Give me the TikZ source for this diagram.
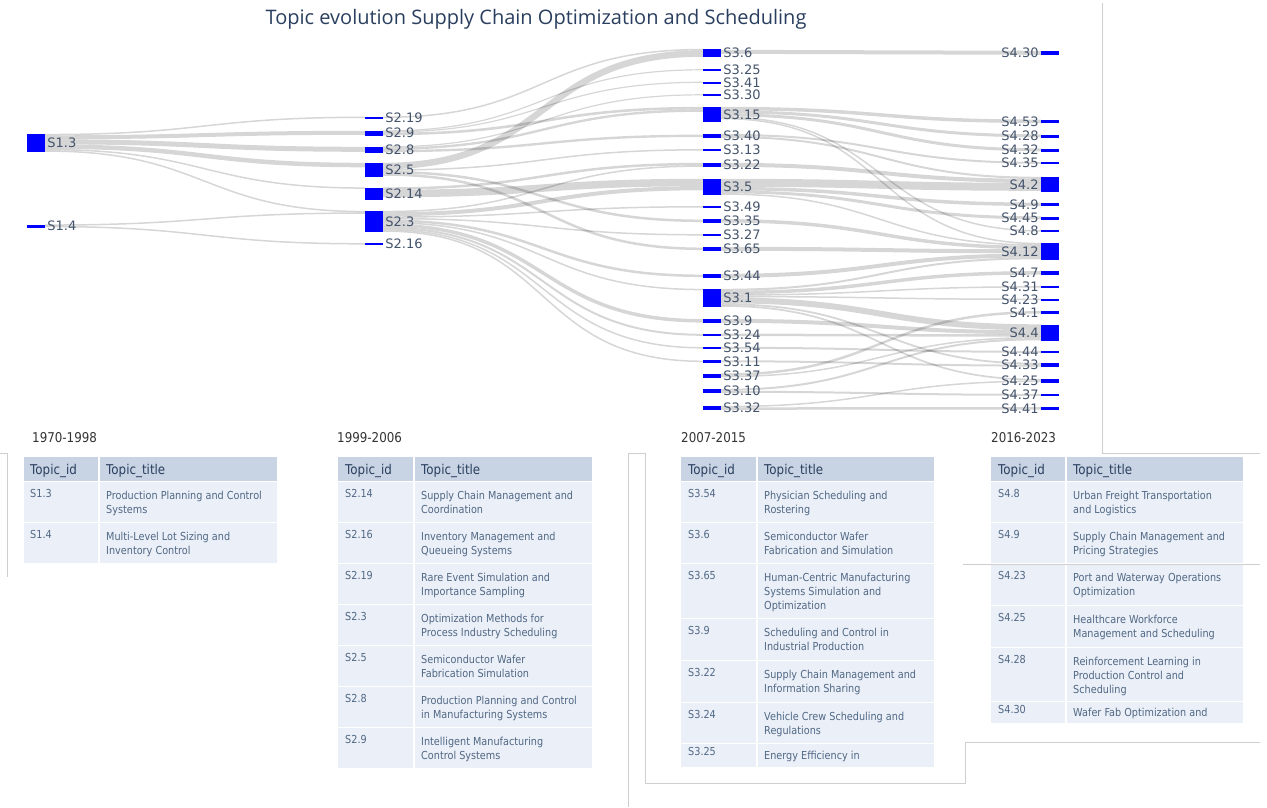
\documentclass[tikz,border=0pt]{standalone}
\usepackage{fontspec}
\setmainfont{DejaVu Sans}
\newfontfamily\titlefont{Open Sans}
\newfontfamily\tabfont[FakeStretch=0.88]{DejaVu Sans}
\definecolor{nodeblue}{HTML}{0000FF}
\definecolor{slate}{HTML}{2A3F5F}
\definecolor{labelgray}{HTML}{44546C}
\definecolor{headfill}{HTML}{C8D4E3}
\definecolor{cellfill}{HTML}{EBF0F8}
\definecolor{celltext}{HTML}{506784}
\definecolor{framegray}{HTML}{CFCFCF}
\pgfdeclarelayer{links}
\pgfsetlayers{links,main}

\begin{document}
\begin{tikzpicture}[x=1pt, y=-1pt,
  bar/.style={fill=nodeblue, inner sep=0, minimum width=18},
  lbl/.style={text=labelgray, font=\fontsize{13}{15}\selectfont, inner sep=2},
  flow/.style={draw=black, draw opacity=0.16, line width=#1, out=0, in=180, looseness=1.28},
  frame/.style={draw=framegray, line width=0.9},
  yr/.style={anchor=west, inner sep=0, text=black!80, font=\tabfont\fontsize{13.5}{15}\selectfont},
  hd/.style={anchor=base west, inner sep=0, text=slate, font=\tabfont\fontsize{13.5}{16}\selectfont},
  cid/.style={anchor=base west, inner sep=0, text=celltext, font=\tabfont\fontsize{11}{14}\selectfont},
  ctt/.style={anchor=north west, inner sep=0, align=left, text=celltext, font=\tabfont\fontsize{11}{14}\selectfont}]
\useasboundingbox (0,0) rectangle (1267,807);

\node[font=\titlefont\fontsize{20}{22}\selectfont, text=slate] (title) at (536,19) {Topic evolution Supply Chain Optimization and Scheduling};

\node[bar, minimum height=18, label={[lbl]right:S1.3}] (s13) at (36,143) {};
\node[bar, minimum height=3, label={[lbl]right:S1.4}] (s14) at (36,226) {};

\node[bar, minimum height=2, label={[lbl]right:S2.19}] (s219) at (374,117.5) {};
\node[bar, minimum height=5, label={[lbl]right:S2.9}] (s29) at (374,133) {};
\node[bar, minimum height=6, label={[lbl]right:S2.8}] (s28) at (374,149.5) {};
\node[bar, minimum height=14, label={[lbl]right:S2.5}] (s25) at (374,170) {};
\node[bar, minimum height=12, label={[lbl]right:S2.14}] (s214) at (374,193.5) {};
\node[bar, minimum height=21, label={[lbl]right:S2.3}] (s23) at (374,221.5) {};
\node[bar, minimum height=2, label={[lbl]right:S2.16}] (s216) at (374,244) {};

\node[bar, minimum height=8, label={[lbl]right:S3.6}] (s36) at (712,53) {};
\node[bar, minimum height=2, label={[lbl]right:S3.25}] (s325) at (712,70) {};
\node[bar, minimum height=2, label={[lbl]right:S3.41}] (s341) at (712,82.5) {};
\node[bar, minimum height=2, label={[lbl]right:S3.30}] (s330) at (712,95) {};
\node[bar, minimum height=15, label={[lbl]right:S3.15}] (s315) at (712,114.5) {};
\node[bar, minimum height=4, label={[lbl]right:S3.40}] (s340) at (712,136) {};
\node[bar, minimum height=2.5, label={[lbl]right:S3.13}] (s313) at (712,150) {};
\node[bar, minimum height=4, label={[lbl]right:S3.22}] (s322) at (712,165) {};
\node[bar, minimum height=16, label={[lbl]right:S3.5}] (s35) at (712,187) {};
\node[bar, minimum height=2, label={[lbl]right:S3.49}] (s349) at (712,207) {};
\node[bar, minimum height=4, label={[lbl]right:S3.35}] (s335) at (712,221) {};
\node[bar, minimum height=2, label={[lbl]right:S3.27}] (s327) at (712,235) {};
\node[bar, minimum height=4, label={[lbl]right:S3.65}] (s365) at (712,249) {};
\node[bar, minimum height=4, label={[lbl]right:S3.44}] (s344) at (712,276) {};
\node[bar, minimum height=18, label={[lbl]right:S3.1}] (s31) at (712,298) {};
\node[bar, minimum height=4, label={[lbl]right:S3.9}] (s39) at (712,321) {};
\node[bar, minimum height=2.5, label={[lbl]right:S3.24}] (s324) at (712,335) {};
\node[bar, minimum height=2, label={[lbl]right:S3.54}] (s354) at (712,348) {};
\node[bar, minimum height=3.5, label={[lbl]right:S3.11}] (s311) at (712,361.5) {};
\node[bar, minimum height=4, label={[lbl]right:S3.37}] (s337) at (712,375.5) {};
\node[bar, minimum height=4, label={[lbl]right:S3.10}] (s310) at (712,391) {};
\node[bar, minimum height=4, label={[lbl]right:S3.32}] (s332) at (712,408) {};

\node[bar, minimum height=4, label={[lbl]left:S4.30}] (s430) at (1050,53) {};
\node[bar, minimum height=3.5, label={[lbl]left:S4.53}] (s453) at (1050,121.5) {};
\node[bar, minimum height=3, label={[lbl]left:S4.28}] (s428) at (1050,136) {};
\node[bar, minimum height=3, label={[lbl]left:S4.32}] (s432) at (1050,150) {};
\node[bar, minimum height=2, label={[lbl]left:S4.35}] (s435) at (1050,163) {};
\node[bar, minimum height=15, label={[lbl]left:S4.2}] (s42) at (1050,184.5) {};
\node[bar, minimum height=3.5, label={[lbl]left:S4.9}] (s49) at (1050,204.5) {};
\node[bar, minimum height=3, label={[lbl]left:S4.45}] (s445) at (1050,218) {};
\node[bar, minimum height=2, label={[lbl]left:S4.8}] (s48) at (1050,231) {};
\node[bar, minimum height=17, label={[lbl]left:S4.12}] (s412) at (1050,251.5) {};
\node[bar, minimum height=4, label={[lbl]left:S4.7}] (s47) at (1050,273) {};
\node[bar, minimum height=2, label={[lbl]left:S4.31}] (s431) at (1050,287) {};
\node[bar, minimum height=2, label={[lbl]left:S4.23}] (s423) at (1050,299.5) {};
\node[bar, minimum height=3, label={[lbl]left:S4.1}] (s41) at (1050,312.5) {};
\node[bar, minimum height=16, label={[lbl]left:S4.4}] (s44) at (1050,332.5) {};
\node[bar, minimum height=2, label={[lbl]left:S4.44}] (s444) at (1050,352) {};
\node[bar, minimum height=4, label={[lbl]left:S4.33}] (s433) at (1050,365) {};
\node[bar, minimum height=4, label={[lbl]left:S4.25}] (s425) at (1050,381) {};
\node[bar, minimum height=2, label={[lbl]left:S4.37}] (s437) at (1050,395) {};
\node[bar, minimum height=3.5, label={[lbl]left:S4.41}] (s441) at (1050,408.5) {};

\begin{pgfonlayer}{links}
\fill[white] (0,0) rectangle (1267,807);
\draw[flow=1.5] ([yshift=-0.75]s13.north east) to ([yshift=-1]s219.north west);
\draw[flow=4] ([yshift=-3.5]s13.north east) to ([yshift=-2.5]s29.north west);
\draw[flow=5] ([yshift=-8]s13.north east) to ([yshift=-3]s28.north west);
\draw[flow=4.5] ([yshift=-12.75]s13.north east) to ([yshift=-2.25]s25.north west);
\draw[flow=1.5] ([yshift=-15.75]s13.north east) to ([yshift=-0.75]s214.north west);
\draw[flow=1.5] ([yshift=-17.25]s13.north east) to ([yshift=-0.75]s23.north west);
\draw[flow=1.5] ([yshift=-0.75]s14.north east) to ([yshift=-2.25]s23.north west);
\draw[flow=1.5] ([yshift=-2.25]s14.north east) to ([yshift=-1]s216.north west);

\draw[flow=1.5] ([yshift=-1]s219.north east) to ([yshift=-0.75]s36.north west);
\draw[flow=1.2] ([yshift=-0.6]s29.north east) to ([yshift=-1]s325.north west);
\draw[flow=1.2] ([yshift=-1.8]s29.north east) to ([yshift=-1]s341.north west);
\draw[flow=2.6] ([yshift=-3.7]s29.north east) to ([yshift=-1.3]s315.north west);
\draw[flow=1.2] ([yshift=-0.6]s28.north east) to ([yshift=-1]s330.north west);
\draw[flow=2.4] ([yshift=-2.4]s28.north east) to ([yshift=-3.8]s315.north west);
\draw[flow=2.4] ([yshift=-4.8]s28.north east) to ([yshift=-2]s340.north west);
\draw[flow=6.5] ([yshift=-3.25]s25.north east) to ([yshift=-4.75]s36.north west);
\draw[flow=1.5] ([yshift=-7.25]s25.north east) to ([yshift=-1.25]s313.north west);
\draw[flow=2.5] ([yshift=-9.25]s25.north east) to ([yshift=-2]s335.north west);
\draw[flow=2.5] ([yshift=-11.75]s25.north east) to ([yshift=-2]s365.north west);
\draw[flow=2.5] ([yshift=-1.25]s214.north east) to ([yshift=-1.25]s322.north west);
\draw[flow=7.5] ([yshift=-6.25]s214.north east) to ([yshift=-3.75]s35.north west);
\draw[flow=1.5] ([yshift=-0.75]s23.north east) to ([yshift=-3.25]s322.north west);
\draw[flow=4] ([yshift=-3.5]s23.north east) to ([yshift=-9.5]s35.north west);
\draw[flow=1.5] ([yshift=-6.25]s23.north east) to ([yshift=-1]s349.north west);
\draw[flow=1.5] ([yshift=-7.75]s23.north east) to ([yshift=-1]s327.north west);
\draw[flow=2.5] ([yshift=-9.75]s23.north east) to ([yshift=-2]s344.north west);
\draw[flow=1.5] ([yshift=-11.75]s23.north east) to ([yshift=-0.75]s31.north west);
\draw[flow=3.5] ([yshift=-14.25]s23.north east) to ([yshift=-2]s39.north west);
\draw[flow=2] ([yshift=-17]s23.north east) to ([yshift=-1.25]s324.north west);
\draw[flow=1.5] ([yshift=-18.75]s23.north east) to ([yshift=-1]s354.north west);
\draw[flow=1.5] ([yshift=-20.25]s23.north east) to ([yshift=-1.75]s311.north west);

\draw[flow=4] ([yshift=-3]s36.north east) to ([yshift=-2]s430.north west);
\draw[flow=3.5] ([yshift=-1.75]s315.north east) to ([yshift=-1.75]s453.north west);
\draw[flow=3] ([yshift=-5]s315.north east) to ([yshift=-1.5]s428.north west);
\draw[flow=3] ([yshift=-8]s315.north east) to ([yshift=-1.5]s432.north west);
\draw[flow=1.5] ([yshift=-10.25]s315.north east) to ([yshift=-1]s48.north west);
\draw[flow=1.5] ([yshift=-11.75]s315.north east) to ([yshift=-0.75]s412.north west);
\draw[flow=2] ([yshift=-1]s340.north east) to ([yshift=-1]s435.north west);
\draw[flow=2] ([yshift=-3]s340.north east) to ([yshift=-1]s42.north west);
\draw[flow=4] ([yshift=-2]s322.north east) to ([yshift=-4]s42.north west);
\draw[flow=8] ([yshift=-4]s35.north east) to ([yshift=-10]s42.north west);
\draw[flow=3.5] ([yshift=-9.75]s35.north east) to ([yshift=-1.75]s49.north west);
\draw[flow=3] ([yshift=-13]s35.north east) to ([yshift=-1.5]s445.north west);
\draw[flow=1.5] ([yshift=-15.25]s35.north east) to ([yshift=-2.25]s412.north west);
\draw[flow=3.5] ([yshift=-2]s335.north east) to ([yshift=-4.75]s412.north west);
\draw[flow=4] ([yshift=-2]s365.north east) to ([yshift=-8.5]s412.north west);
\draw[flow=4] ([yshift=-2]s344.north east) to ([yshift=-12.5]s412.north west);
\draw[flow=2] ([yshift=-1]s31.north east) to ([yshift=-15.5]s412.north west);
\draw[flow=3.5] ([yshift=-3.75]s31.north east) to ([yshift=-2]s47.north west);
\draw[flow=1.5] ([yshift=-6.25]s31.north east) to ([yshift=-1]s431.north west);
\draw[flow=1.5] ([yshift=-7.75]s31.north east) to ([yshift=-1]s423.north west);
\draw[flow=6] ([yshift=-11.5]s31.north east) to ([yshift=-3]s44.north west);
\draw[flow=1.8] ([yshift=-15.4]s31.north east) to ([yshift=-0.9]s433.north west);
\draw[flow=1.7] ([yshift=-17.15]s31.north east) to ([yshift=-0.85]s425.north west);
\draw[flow=4] ([yshift=-2]s39.north east) to ([yshift=-8]s44.north west);
\draw[flow=2.5] ([yshift=-1.25]s324.north east) to ([yshift=-11.25]s44.north west);
\draw[flow=2] ([yshift=-1]s354.north east) to ([yshift=-1]s444.north west);
\draw[flow=2] ([yshift=-1.75]s311.north east) to ([yshift=-2.8]s433.north west);
\draw[flow=2.5] ([yshift=-1.25]s337.north east) to ([yshift=-1.5]s41.north west);
\draw[flow=1.5] ([yshift=-3.25]s337.north east) to ([yshift=-13.25]s44.north west);
\draw[flow=2] ([yshift=-1]s310.north east) to ([yshift=-15]s44.north west);
\draw[flow=2] ([yshift=-3]s310.north east) to ([yshift=-1]s437.north west);
\draw[flow=1.5] ([yshift=-0.75]s332.north east) to ([yshift=-2.45]s425.north west);
\draw[flow=2.5] ([yshift=-2.75]s332.north east) to ([yshift=-1.75]s441.north west);
\end{pgfonlayer}

\fill[headfill] (24,457) rectangle (277,481);
\fill[cellfill] (24,482) rectangle (277,522);
\fill[cellfill] (24,523) rectangle (277,563);
\draw[white, line width=1.2] (99,457) -- (99,563);
\node[yr] (y1) at (32,438) {1970-1998};
\node[hd] (h1a) at (30,474) {Topic\_id};
\node[hd] (h1b) at (106,474) {Topic\_title};
\node[cid] (i13) at (30,497.5) {S1.3};
\node[ctt] (t13) at (106,490.6) {Production Planning and Control\\Systems};
\node[cid] (i14) at (30,538.5) {S1.4};
\node[ctt] (t14) at (106,531.6) {Multi-Level Lot Sizing and\\Inventory Control};

\fill[headfill] (338,457) rectangle (592,481);
\fill[cellfill] (338,482) rectangle (592,522);
\fill[cellfill] (338,523) rectangle (592,563);
\fill[cellfill] (338,564) rectangle (592,604);
\fill[cellfill] (338,605) rectangle (592,645);
\fill[cellfill] (338,646) rectangle (592,686);
\fill[cellfill] (338,687) rectangle (592,727);
\fill[cellfill] (338,728) rectangle (592,768);
\draw[white, line width=1.2] (414,457) -- (414,768);
\node[yr] (y2) at (337,438) {1999-2006};
\node[hd] (h2a) at (345,474) {Topic\_id};
\node[hd] (h2b) at (421,474) {Topic\_title};
\node[cid] (i214) at (345,497.5) {S2.14};
\node[ctt] (t214) at (421,490.6) {Supply Chain Management and\\Coordination};
\node[cid] (i216) at (345,538.5) {S2.16};
\node[ctt] (t216) at (421,531.6) {Inventory Management and\\Queueing Systems};
\node[cid] (i219) at (345,579.5) {S2.19};
\node[ctt] (t219) at (421,572.6) {Rare Event Simulation and\\Importance Sampling};
\node[cid] (i23) at (345,620.5) {S2.3};
\node[ctt] (t23) at (421,613.6) {Optimization Methods for\\Process Industry Scheduling};
\node[cid] (i25) at (345,661.5) {S2.5};
\node[ctt] (t25) at (421,654.6) {Semiconductor Wafer\\Fabrication Simulation};
\node[cid] (i28) at (345,702.5) {S2.8};
\node[ctt] (t28) at (421,695.6) {Production Planning and Control\\in Manufacturing Systems};
\node[cid] (i29) at (345,743.5) {S2.9};
\node[ctt] (t29) at (421,736.6) {Intelligent Manufacturing\\Control Systems};

\fill[headfill] (681,457) rectangle (934,481);
\fill[cellfill] (681,482) rectangle (934,522);
\fill[cellfill] (681,523) rectangle (934,563);
\fill[cellfill] (681,564) rectangle (934,618);
\fill[cellfill] (681,619) rectangle (934,660);
\fill[cellfill] (681,661) rectangle (934,702);
\fill[cellfill] (681,703) rectangle (934,743);
\fill[cellfill] (681,744) rectangle (934,767);
\draw[white, line width=1.2] (757,457) -- (757,767);
\node[yr] (y3) at (681,438) {2007-2015};
\node[hd] (h3a) at (688,474) {Topic\_id};
\node[hd] (h3b) at (764,474) {Topic\_title};
\node[cid] (i354) at (688,497.5) {S3.54};
\node[ctt] (t354) at (764,490.6) {Physician Scheduling and\\Rostering};
\node[cid] (i36) at (688,538.5) {S3.6};
\node[ctt] (t36) at (764,531.6) {Semiconductor Wafer\\Fabrication and Simulation};
\node[cid] (i365) at (688,579.5) {S3.65};
\node[ctt] (t365) at (764,572.6) {Human-Centric Manufacturing\\Systems Simulation and\\Optimization};
\node[cid] (i39) at (688,634.5) {S3.9};
\node[ctt] (t39) at (764,627.6) {Scheduling and Control in\\Industrial Production};
\node[cid] (i322) at (688,676.5) {S3.22};
\node[ctt] (t322) at (764,669.6) {Supply Chain Management and\\Information Sharing};
\node[cid] (i324) at (688,718.5) {S3.24};
\node[ctt] (t324) at (764,711.6) {Vehicle Crew Scheduling and\\Regulations};
\node[cid] (i325) at (688,755.5) {S3.25};
\node[ctt] (t325) at (764,750.6) {Energy Efficiency in};

\fill[headfill] (991,457) rectangle (1243,481);
\fill[cellfill] (991,482) rectangle (1243,522);
\fill[cellfill] (991,523) rectangle (1243,563);
\fill[cellfill] (991,564) rectangle (1243,605);
\fill[cellfill] (991,606) rectangle (1243,647);
\fill[cellfill] (991,648) rectangle (1243,701);
\fill[cellfill] (991,702) rectangle (1243,723);
\draw[white, line width=1.2] (1066,457) -- (1066,723);
\node[yr] (y4) at (991,438) {2016-2023};
\node[hd] (h4a) at (998,474) {Topic\_id};
\node[hd] (h4b) at (1073,474) {Topic\_title};
\node[cid] (i48) at (998,497.5) {S4.8};
\node[ctt] (t48) at (1073,490.6) {Urban Freight Transportation\\and Logistics};
\node[cid] (i49) at (998,538.5) {S4.9};
\node[ctt] (t49) at (1073,531.6) {Supply Chain Management and\\Pricing Strategies};
\node[cid] (i423) at (998,579.5) {S4.23};
\node[ctt] (t423) at (1073,572.6) {Port and Waterway Operations\\Optimization};
\node[cid] (i425) at (998,621.5) {S4.25};
\node[ctt] (t425) at (1073,614.6) {Healthcare Workforce\\Management and Scheduling};
\node[cid] (i428) at (998,663.5) {S4.28};
\node[ctt] (t428) at (1073,656.6) {Reinforcement Learning in\\Production Control and\\Scheduling};
\node[cid] (i430) at (998,713) {S4.30};
\node[ctt] (t430) at (1073,707.6) {Wafer Fab Optimization and};

\draw[frame] (1102,3) -- (1102,453) -- (1260,453);
\draw[frame] (0,453) -- (7.5,453) -- (7.5,577);
\draw[frame] (628,807) -- (628,453) -- (645,453) -- (645,783) -- (965,783) -- (965,742) -- (1260,742);
\draw[frame] (963,564) -- (1260,564);
\end{tikzpicture}
\end{document}
